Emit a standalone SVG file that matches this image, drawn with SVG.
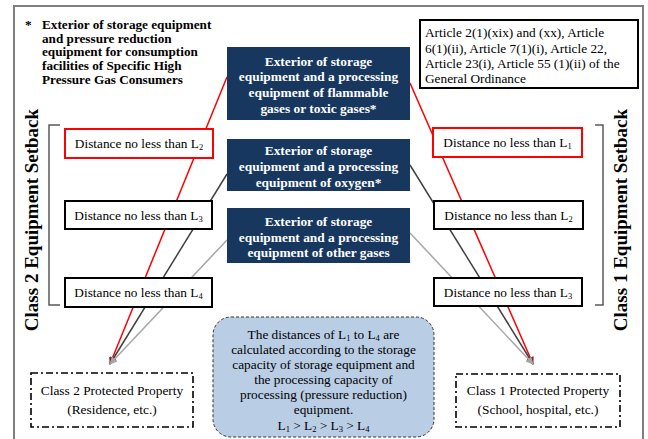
<svg xmlns="http://www.w3.org/2000/svg" width="648" height="439" viewBox="0 0 648 439">
<defs>
<style>
.serif{font-family:"Liberation Serif","Times New Roman",serif;}
.b{font-weight:bold;}
.blue rect{fill:#17375E;}
.blue text{fill:#fff;font-size:13.4px;font-weight:bold;text-anchor:middle;}
.dist rect{fill:#fff;stroke:#000;stroke-width:2;}
.dist.red rect{stroke:#FF0000;}
.dist text{font-size:13.3px;text-anchor:middle;fill:#000;}
.prot rect{fill:#fff;stroke:#000;stroke-width:1.6;stroke-dasharray:7 3 2 3;}
.prot text{font-size:13.4px;text-anchor:middle;fill:#000;}
.sub{font-size:8.5px;}
.conn line{stroke-width:1.5;fill:none;}
.vt{font-size:19px;font-weight:bold;text-anchor:middle;}
</style>
<marker id="ar" viewBox="0 0 10 10" refX="9" refY="5" markerWidth="5" markerHeight="5" orient="auto"><path d="M0,0L10,5L0,10z" fill="#FF0000"/></marker>
<marker id="ad" viewBox="0 0 10 10" refX="9" refY="5" markerWidth="5" markerHeight="5" orient="auto"><path d="M0,0L10,5L0,10z" fill="#404040"/></marker>
<marker id="al" viewBox="0 0 10 10" refX="9" refY="5" markerWidth="5" markerHeight="5" orient="auto"><path d="M0,0L10,5L0,10z" fill="#A6A6A6"/></marker>
</defs>
<rect width="648" height="439" fill="#fff"/>
<rect id="frame" x="14" y="6" width="629" height="450" fill="none" stroke="#7F7F7F" stroke-width="2"/>

<g id="connectors" class="conn">
<line x1="227" y1="77" x2="110" y2="364" stroke="#FF0000" marker-end="url(#ar)"/>
<line x1="227" y1="174" x2="110" y2="364" stroke="#404040" marker-end="url(#ad)"/>
<line x1="227" y1="240" x2="110" y2="364" stroke="#A6A6A6" marker-end="url(#al)"/>
<line x1="410" y1="83" x2="533" y2="364" stroke="#FF0000" marker-end="url(#ar)"/>
<line x1="410" y1="165" x2="533" y2="364" stroke="#404040" marker-end="url(#ad)"/>
<line x1="410" y1="233" x2="533" y2="364" stroke="#A6A6A6" marker-end="url(#al)"/>
</g>

<g id="note" class="serif b" font-size="13.2" fill="#000">
<text x="25" y="29">*</text>
<text x="42" y="29">Exterior of storage equipment</text>
<text x="42" y="42.5">and pressure reduction</text>
<text x="42" y="56">equipment for consumption</text>
<text x="42" y="70">facilities of Specific High</text>
<text x="42" y="84">Pressure Gas Consumers</text>
</g>

<g id="articles" class="serif" font-size="13.3" fill="#000">
<rect x="420" y="20" width="218" height="68" fill="#fff" stroke="#000" stroke-width="2"/>
<text x="425" y="37">Article 2(1)(xix) and (xx), Article</text>
<text x="425" y="52.5">6(1)(ii), Article 7(1)(i), Article 22,</text>
<text x="425" y="68">Article 23(i), Article 55 (1)(ii) of the</text>
<text x="425" y="83">General Ordinance</text>
</g>

<g id="flammable" class="blue serif">
<rect x="227" y="47" width="183" height="73"/>
<text x="318.5" y="65.5">Exterior of storage</text>
<text x="318.5" y="81">equipment and a processing</text>
<text x="318.5" y="96.5">equipment of flammable</text>
<text x="318.5" y="112.5">gases or toxic gases*</text>
</g>
<g id="oxygen" class="blue serif">
<rect x="227" y="139" width="183" height="52"/>
<text x="318.5" y="154.5">Exterior of storage</text>
<text x="318.5" y="170.5">equipment and a processing</text>
<text x="318.5" y="186.5">equipment of oxygen*</text>
</g>
<g id="other" class="blue serif">
<rect x="227" y="208" width="183" height="55"/>
<text x="318.5" y="225.5">Exterior of storage</text>
<text x="318.5" y="241.5">equipment and a processing</text>
<text x="318.5" y="257">equipment of other gases</text>
</g>

<g id="left-bracket" fill="none" stroke="#595959" stroke-width="1.5">
<path d="M60,125H49V305H60"/>
</g>
<g id="right-bracket" fill="none" stroke="#595959" stroke-width="1.5">
<path d="M595,125H603V305H595"/>
</g>

<g id="class2-setback" class="serif"><text class="vt" transform="translate(38,220) rotate(-90)">Class 2 Equipment Setback</text></g>
<g id="class1-setback" class="serif"><text class="vt" transform="translate(627,220) rotate(-90)">Class 1 Equipment Setback</text></g>

<g id="left-L2" class="dist red serif">
<rect x="65" y="129" width="148" height="29"/>
<text x="139" y="148">Distance no less than L<tspan class="sub" dy="2">2</tspan></text>
</g>
<g id="left-L3" class="dist serif">
<rect x="65" y="201" width="147" height="28"/>
<text x="138.5" y="220">Distance no less than L<tspan class="sub" dy="2">3</tspan></text>
</g>
<g id="left-L4" class="dist serif">
<rect x="65" y="278" width="147" height="29"/>
<text x="138.5" y="297">Distance no less than L<tspan class="sub" dy="2">4</tspan></text>
</g>

<g id="right-L1" class="dist red serif">
<rect x="433" y="128" width="149" height="29"/>
<text x="507.5" y="147">Distance no less than L<tspan class="sub" dy="2">1</tspan></text>
</g>
<g id="right-L2" class="dist serif">
<rect x="434" y="201" width="149" height="28"/>
<text x="508.5" y="220">Distance no less than L<tspan class="sub" dy="2">2</tspan></text>
</g>
<g id="right-L3" class="dist serif">
<rect x="434" y="278" width="148" height="28"/>
<text x="508" y="297">Distance no less than L<tspan class="sub" dy="2">3</tspan></text>
</g>

<g id="class2-property" class="prot serif">
<rect x="31" y="373" width="162" height="54"/>
<text x="112" y="394.5">Class 2 Protected Property</text>
<text x="112" y="413.5">(Residence, etc.)</text>
</g>
<g id="class1-property" class="prot serif">
<rect x="456" y="374" width="164" height="53"/>
<text x="538" y="394.5">Class 1 Protected Property</text>
<text x="538" y="413.5">(School, hospital, etc.)</text>
</g>

<g id="explanation" class="serif" font-size="13.3" text-anchor="middle" fill="#000">
<rect x="213" y="317" width="221" height="120" rx="18" fill="#B9CDE5" stroke="#333" stroke-width="1" stroke-dasharray="3 2"/>
<text x="323.5" y="338.5">The distances of L<tspan class="sub" dy="2">1</tspan><tspan dy="-2"> to L</tspan><tspan class="sub" dy="2">4</tspan><tspan dy="-2"> are</tspan></text>
<text x="323.5" y="353.5">calculated according to the storage</text>
<text x="323.5" y="368.5">capacity of storage equipment and</text>
<text x="323.5" y="384">the processing capacity of</text>
<text x="323.5" y="399">processing (pressure reduction)</text>
<text x="323.5" y="414">equipment.</text>
<text x="323.5" y="429.5">L<tspan class="sub" dy="2">1</tspan><tspan dy="-2"> &gt; L</tspan><tspan class="sub" dy="2">2</tspan><tspan dy="-2"> &gt; L</tspan><tspan class="sub" dy="2">3</tspan><tspan dy="-2"> &gt; L</tspan><tspan class="sub" dy="2">4</tspan></text>
</g>
</svg>
